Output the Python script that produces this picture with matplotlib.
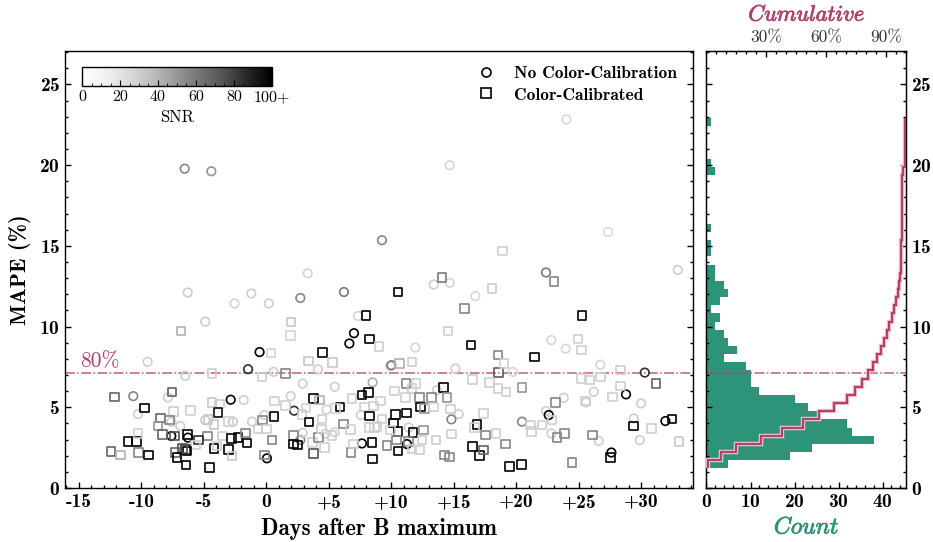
import numpy as np
import matplotlib.pyplot as plt
from matplotlib import patheffects
from matplotlib.cm import ScalarMappable
from matplotlib.colors import Normalize
from matplotlib.ticker import MultipleLocator
from matplotlib.lines import Line2D

plt.rcParams['font.family'] = 'cmr10'
plt.rcParams['axes.unicode_minus'] = False
plt.rcParams['axes.formatter.use_mathtext'] = True

# Без цветовой калибровки (кружки): день после максимума B, MAPE, SNR
circ_day = [-1.46, -6.48, 0.59, 4.13, 8.5, 2.9, 5.47, -10.64, -7.87, -10.26,
            -2.85, -1.81, 1.95, 2.22, 4.82, 7.57, -7.6, -6.88, -7.6, -6.27,
            -4.88, -2.67, -1.14, -0.16, 0.05, 2.72, 2.9, 4.72, 5.47, 7.65,
            9.92, 15.12, 13.65, 15.39, 14.8, 11.39, 11.25, 20.45, 22.8, 22.37,
            22.59, 23.79, 25.57, 26.19, 28.77, 30.27, 29.97, 29.39, 31.92, 29.87,
            26.59, 27.6, -6.53, -4.4, -6.29, -1.2, -2.54, 0.19, 2.72, 3.31,
            6.21, -4.88, 7.33, 7.01, 6.64, -0.54, -9.5, 24.0, 14.67, 9.25,
            27.33, 32.91, 22.37, 13.39, 14.67, 16.72, 22.8, 23.95, 11.92, 10.0,
            19.71, 26.72]
circ_mape = [7.36, 6.95, 7.2, 7.36, 6.54, 6.47, 6.27, 5.69, 5.61, 4.58,
             5.47, 5.45, 5.69, 4.79, 4.86, 4.52, 4.1, 3.84, 3.22, 3.12,
             4.2, 4.11, 4.11, 4.52, 1.84, 2.97, 3.42, 3.36, 3.46, 2.76,
             7.55, 7.4, 6.06, 4.58, 4.25, 3.75, 2.72, 4.11, 3.38, 4.77,
             4.52, 5.59, 5.3, 5.96, 5.8, 7.15, 5.24, 4.31, 4.15, 2.97,
             2.92, 2.2, 19.78, 19.62, 12.11, 12.05, 11.43, 11.43, 11.77, 13.3,
             12.14, 10.3, 10.66, 9.59, 8.95, 8.42, 7.82, 22.83, 19.99, 15.35,
             15.86, 13.51, 13.35, 12.6, 12.71, 11.89, 9.16, 8.63, 8.7, 7.61,
             7.19, 7.64]
circ_snr = [85, 30, 30, 30, 42, 30, 30, 56, 30, 30,
            100, 30, 30, 85, 30, 30, 30, 30, 100, 100,
            33, 33, 30, 30, 100, 56, 30, 30, 30, 100,
            30, 30, 30, 30, 56, 30, 100, 56, 30, 30,
            100, 30, 30, 30, 100, 85, 30, 30, 100, 30,
            30, 100, 56, 50, 30, 30, 28, 30, 56, 28,
            60, 30, 28, 100, 100, 100, 30, 26, 26, 56,
            26, 30, 60, 30, 26, 26, 26, 26, 26, 60,
            26, 26]

# С цветовой калибровкой (квадраты)
sq_day = [-4.35, -0.35, 1.52, -12.13, -7.55, -9.76, -7.41, -6.05, -4.35, -3.76,
          -3.87, 0.67, 1.52, 3.76, 4.24, 3.17, 5.89, 5.52, 6.85, 7.65,
          8.19, 7.87, 8.59, 8.24, -8.48, -7.76, -8.66, -8.29, -7.33, -6.32,
          -4.67, -4.19, -4.71, -5.41, -5.68, -3.5, -2.8, -2.26, -1.68, -1.55,
          -3.01, -0.66, -0.29, 0.61, 0.03, 0.45, -0.16, -3.01, -2.75, -4.19,
          -3.95, -6.48, -6.35, -6.69, -7.28, -7.15, -6.43, -4.56, -11.06, -10.4,
          -12.42, -11.68, -10.21, -9.41, -10.26, 2.16, 2.16, 2.5, 3.7, 3.78,
          4.19, 4.67, 2.86, 3.41, 4.45, 4.4, 5.25, 6.19, 6.72, 6.77,
          6.99, 8.45, 8.5, 8.24, 8.67,
          18.59, 11.17, 11.97, 11.65, 10.24, 9.12, 11.12, 12.24, 13.2, 14.19,
          14.45, 12.32, 12.67, 13.39, 14.72, 10.32, 11.2, 10.19, 10.53, 11.73,
          12.59, 8.85, 9.25, 9.92, 10.4, 9.65, 11.39, 12.45, 11.65, 12.27,
          10.53, 13.57, 14.8, 14.27, 14.64, 16.85, 16.67, 17.52, 18.37, 17.39,
          16.51, 17.04, 17.39, 19.12, 19.44, 20.4, 24.45, 16.51, 17.84, 18.53,
          19.17, 20.45, 21.12, 21.2, 22.05, 22.85, 23.25, 23.87, 23.12, 25.52,
          27.71, 25.2, 25.87, 26.72, 28.32, 28.32, 31.17, 29.39, 30.8, 32.45,
          32.99, 26.11, 27.52,
          -6.83, 1.99, 1.92, 7.97, 8.24, 9.0, 0.37, 4.51, 3.39, 5.28,
          18.91, 23.01, 14.05, 10.53, 18.05, 15.87, 25.25, 14.53, 16.37, 24.93,
          25.2, 10.64, 11.65, 18.53, 19.01, 21.44]
sq_mape = [7.1, 6.89, 7.1, 5.63, 5.96, 4.97, 4.75, 4.8, 5.3, 5.2,
           4.68, 5.38, 5.1, 5.55, 5.44, 4.97, 5.01, 4.93, 5.55, 5.75,
           5.9, 5.03, 5.07, 4.46, 4.35, 4.2, 3.84, 3.32, 3.22, 3.32,
           4.26, 3.93, 3.22, 2.97, 2.66, 3.22, 3.08, 3.12, 3.42, 2.8,
           4.11, 3.66, 4.2, 4.42, 3.66, 2.97, 2.04, 2.39, 1.98, 2.45,
           2.59, 2.39, 2.29, 2.45, 2.2, 1.9, 1.42, 1.27, 2.87, 2.87,
           2.26, 2.04, 2.2, 2.04, 3.38, 3.24, 2.72, 2.66, 2.82, 2.13,
           3.12, 2.5, 4.57, 4.1, 4.27, 3.66, 3.26, 3.97, 3.62, 2.2,
           2.72, 2.82, 1.8, 3.76, 3.76,
           7.15, 6.48, 6.48, 6.17, 6.0, 5.38, 5.59, 5.59, 5.59, 6.23,
           5.61, 5.03, 4.93, 5.03, 4.89, 4.56, 4.66, 4.04, 3.49, 3.43,
           3.59, 3.8, 4.27, 3.59, 2.97, 2.62, 2.87, 2.97, 2.41, 2.35,
           2.29, 2.97, 3.34, 2.04, 1.92, 3.94, 3.74, 3.28, 3.38, 4.62,
           2.56, 2.0, 2.35, 2.72, 1.32, 1.46, 1.57, 6.72, 6.54, 6.17,
           5.96, 6.21, 3.9, 3.49, 3.9, 4.2, 3.12, 3.38, 5.28, 5.38,
           5.65, 6.79, 6.68, 6.89, 7.3, 6.33, 6.48, 3.84, 3.69, 4.27,
           2.87, 3.28, 1.88,
           9.72, 10.28, 9.43, 10.7, 9.24, 8.75, 8.37, 8.39, 7.87, 7.77,
           14.69, 12.78, 13.05, 12.15, 12.36, 11.13, 10.67, 9.72, 8.87, 9.24,
           8.55, 7.71, 7.81, 8.23, 7.72, 8.12]
sq_snr = [30, 30, 56, 68, 68, 100, 30, 30, 33, 30,
          95, 30, 30, 100, 42, 30, 100, 30, 30, 100,
          100, 30, 30, 100, 68, 56, 50, 68, 75, 100,
          33, 33, 56, 85, 30, 30, 100, 100, 56, 100,
          30, 30, 56, 100, 30, 56, 56, 100, 33, 100,
          30, 85, 100, 75, 68, 100, 100, 100, 100, 100,
          68, 42, 56, 100, 30, 56, 100, 100, 30, 75,
          56, 30, 30, 100, 30, 30, 30, 56, 30, 56,
          30, 100, 100, 30, 30,
          72, 56, 30, 30, 30, 30, 30, 56, 56, 100,
          50, 100, 50, 30, 30, 100, 100, 100, 100, 100,
          50, 30, 30, 30, 56, 56, 56, 30, 30, 30,
          100, 30, 30, 56, 56, 100, 30, 56, 30, 30,
          100, 100, 68, 56, 100, 100, 56, 30, 30, 30,
          30, 50, 30, 30, 30, 30, 56, 56, 56, 30,
          30, 30, 30, 30, 30, 30, 68, 100, 30, 100,
          33, 56, 100,
          42, 33, 28, 100, 100, 30, 28, 100, 33, 33,
          30, 56, 60, 100, 30, 56, 100, 30, 100, 30,
          30, 42, 30, 56, 30, 100]

# Гистограмма MAPE (шаг ~0.5 %) и кумулятивная доля по тем же интервалам
HIST_START = 1.22
HIST_WIDTH = 0.505
hist_counts = [5, 19, 24, 38, 33, 32, 25, 23, 20, 12,
               10, 10, 9, 4, 7, 5, 4, 2, 3, 1,
               3, 5, 4, 2, 2, 0, 1, 1, 0, 1,
               0, 0, 0, 0, 0, 0, 2, 1, 0, 0,
               0, 0, 1]
cum_frac = [0.009, 0.071, 0.15, 0.273, 0.38, 0.485, 0.564, 0.641, 0.703, 0.744,
            0.778, 0.811, 0.836, 0.853, 0.873, 0.891, 0.906, 0.916, 0.928, 0.94,
            0.95, 0.961, 0.966, 0.971, 0.975, 0.975, 0.976, 0.976, 0.978, 0.981,
            0.981, 0.981, 0.981, 0.981, 0.981, 0.981, 0.986, 0.993, 0.993, 0.993,
            0.993, 0.993, 0.997]
MAPE_80 = 7.12

x_ticks = [-15, -10, -5, 0, 5, 10, 15, 20, 25, 30]
x_labels = ['-15', '-10', '-5', '0', '+5', '+10', '+15', '+20', '+25', '+30']

CRIMSON = '#b3406a'
TEAL = '#2e9479'

fig = plt.figure(figsize=(9.33, 5.42), dpi=100)
ax = fig.add_axes([0.0697, 0.0996, 0.6727, 0.8072])
ax_h = fig.add_axes([0.7572, 0.0996, 0.2139, 0.8072], sharey=ax)

cmap = plt.get_cmap('Greys')
norm = Normalize(0, 100)

# Точки
ax.scatter(circ_day, circ_mape, marker='o', s=38, facecolors='none',
           edgecolors=cmap(norm(np.array(circ_snr))), linewidths=1.2, zorder=3)
ax.scatter(sq_day, sq_mape, marker='s', s=38, facecolors='none',
           edgecolors=cmap(norm(np.array(sq_snr))), linewidths=1.2, zorder=3)

ax.axhline(MAPE_80, color=CRIMSON, ls='-.', lw=1.1, alpha=0.85, zorder=2)
ax.text(-13.3, MAPE_80 + 0.15, '80%', color=CRIMSON, fontsize=15.5,
        ha='center', va='bottom')

ax.set_xlim(-16.1, 34.1)
ax.set_ylim(0, 27.1)
ax.set_xticks(x_ticks)
ax.set_xticklabels(x_labels)
ax.set_yticks([0, 5, 10, 15, 20, 25])
ax.xaxis.set_minor_locator(MultipleLocator(1))
ax.yaxis.set_minor_locator(MultipleLocator(1))
ax.tick_params(which='both', direction='in', top=False, right=True,
               labelsize=14, labelfontfamily='cmb10', width=1)
ax.tick_params(which='major', length=4.5)
ax.tick_params(which='minor', length=2.2)
ax.set_xlabel('Days after B maximum', fontfamily='cmb10', fontsize=16.5, labelpad=5)
ax.set_ylabel('MAPE (%)', fontfamily='cmb10', fontsize=16, labelpad=6)
for s in ax.spines.values():
    s.set_linewidth(1.0)

# Легенда
handles = [Line2D([], [], marker='o', ls='', mfc='none', mec='black', ms=6.5, mew=1.2),
           Line2D([], [], marker='s', ls='', mfc='none', mec='black', ms=6.5, mew=1.2)]
ax.legend(handles, ['No Color-Calibration', 'Color-Calibrated'], loc='upper right',
          frameon=False, prop={'family': 'cmb10', 'size': 12.5}, handletextpad=0.6,
          borderaxespad=0.5, labelspacing=0.35)

# Шкала SNR
cax = fig.add_axes([0.0879, 0.8413, 0.2036, 0.0351])
sm = ScalarMappable(norm=norm, cmap=cmap)
cb = fig.colorbar(sm, cax=cax, orientation='horizontal')
cb.set_ticks([0, 20, 40, 60, 80, 100])
cb.set_ticklabels(['0', '20', '40', '60', '80', '100+'])
cax.xaxis.set_minor_locator(MultipleLocator(5))
cax.tick_params(which='both', direction='in', labelsize=11.5, pad=3)
cax.tick_params(which='major', length=4)
cax.tick_params(which='minor', length=2)
cb.set_label('SNR', fontsize=12, labelpad=4)
cb.outline.set_linewidth(1.0)

# Гистограмма
edges = HIST_START + HIST_WIDTH * np.arange(len(hist_counts) + 1)
ax_h.barh(edges[:-1], hist_counts, height=HIST_WIDTH, align='edge', color=TEAL, lw=0)
ax_h.axhline(MAPE_80, color=CRIMSON, ls='-.', lw=1.1, alpha=0.85, zorder=2)
ax_h.set_xlim(0, 45.3)
ax_h.set_xticks([0, 10, 20, 30, 40])
ax_h.xaxis.set_minor_locator(MultipleLocator(2))
ax_h.tick_params(which='both', direction='in', left=True, right=True,
                 labelleft=False, labelright=True,
                 labelsize=14, labelfontfamily='cmb10', width=1)
ax_h.tick_params(which='major', length=4.5)
ax_h.tick_params(which='minor', length=2.2)
ax_h.set_xlabel('Count', fontfamily='cmmi10', fontsize=17, color=TEAL, labelpad=4,
                path_effects=[patheffects.withStroke(linewidth=0.6, foreground=TEAL)])
for s in ax_h.spines.values():
    s.set_linewidth(1.0)

# Кумулятивная доля
ax_c = ax_h.twiny()
ax_c.stairs(cum_frac, edges, orientation='horizontal', baseline=None,
            color=CRIMSON, lw=1.6, zorder=4,
            path_effects=[patheffects.Stroke(linewidth=3.2, foreground='#f2c9d6'),
                          patheffects.Normal()])
ax_c.set_xlim(0, 1)
ax_c.set_xticks([0.3, 0.6, 0.9])
ax_c.set_xticklabels(['30%', '60%', '90%'])
ax_c.xaxis.set_minor_locator(MultipleLocator(0.05))
ax_c.tick_params(which='both', direction='in', labelsize=12.5, labelcolor='#333333',
                 width=1)
ax_c.tick_params(which='major', length=4.5)
ax_c.tick_params(which='minor', length=2.2)
ax_c.set_xlabel('Cumulative', fontfamily='cmmi10', fontsize=16, color=CRIMSON,
                labelpad=7,
                path_effects=[patheffects.withStroke(linewidth=0.6, foreground=CRIMSON)])

fig.savefig('out.png', dpi=100)
